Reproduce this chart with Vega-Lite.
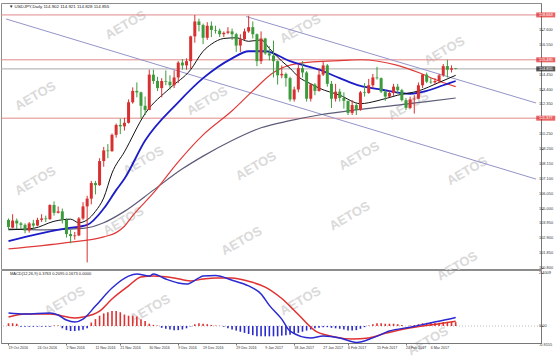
{
"$schema":"https://vega.github.io/schema/vega-lite/v6.json",
"background":"#ffffff",
"padding":{"left":0,"top":2,"right":0,"bottom":0},
"spacing":1,
"bounds":"flush",
"config":{"view":{"stroke":"#8c8c8c","strokeWidth":1},"font":"Liberation Sans",
"axis":{"grid":false,"domainColor":"#777777","tickColor":"#777777","labels":false,"tickSize":2,"title":null}},
"datasets":{
"candles":[
{"i":0,"d":"2016-10-13","o":104.2,"h":104.3,"l":103.5,"c":103.7},
{"i":1,"d":"2016-10-14","o":103.65,"h":104.6,"l":103.6,"c":104.15},
{"i":2,"d":"2016-10-17","o":104.15,"h":104.3,"l":103.55,"c":103.95},
{"i":3,"d":"2016-10-18","o":103.95,"h":104.05,"l":103.55,"c":103.85},
{"i":4,"d":"2016-10-19","o":103.85,"h":103.95,"l":103.25,"c":103.45},
{"i":5,"d":"2016-10-20","o":103.45,"h":104.05,"l":103.3,"c":103.95},
{"i":6,"d":"2016-10-21","o":103.95,"h":104.2,"l":103.55,"c":103.8},
{"i":7,"d":"2016-10-24","o":103.8,"h":104.35,"l":103.75,"c":104.2},
{"i":8,"d":"2016-10-25","o":104.2,"h":104.6,"l":104.05,"c":104.3},
{"i":9,"d":"2016-10-26","o":104.3,"h":104.5,"l":104.05,"c":104.25},
{"i":10,"d":"2016-10-27","o":104.25,"h":105.3,"l":104.2,"c":105.25},
{"i":11,"d":"2016-10-28","o":105.25,"h":105.5,"l":104.5,"c":104.7},
{"i":12,"d":"2016-10-31","o":104.7,"h":105.15,"l":104.65,"c":104.8},
{"i":13,"d":"2016-11-01","o":104.8,"h":105.0,"l":103.95,"c":104.2},
{"i":14,"d":"2016-11-02","o":104.2,"h":104.3,"l":102.95,"c":103.2},
{"i":15,"d":"2016-11-03","o":103.2,"h":103.5,"l":102.55,"c":103.05},
{"i":16,"d":"2016-11-04","o":103.05,"h":103.35,"l":102.8,"c":103.1},
{"i":17,"d":"2016-11-07","o":103.1,"h":104.4,"l":103.05,"c":104.3},
{"i":18,"d":"2016-11-08","o":104.3,"h":105.45,"l":104.2,"c":105.15},
{"i":19,"d":"2016-11-09","o":105.15,"h":105.9,"l":101.2,"c":105.7},
{"i":20,"d":"2016-11-10","o":105.7,"h":106.95,"l":105.3,"c":106.8},
{"i":21,"d":"2016-11-11","o":106.8,"h":106.95,"l":106.0,"c":106.65},
{"i":22,"d":"2016-11-14","o":106.65,"h":108.55,"l":106.6,"c":108.35},
{"i":23,"d":"2016-11-15","o":108.35,"h":109.35,"l":107.95,"c":109.1},
{"i":24,"d":"2016-11-16","o":109.1,"h":109.55,"l":108.55,"c":109.05},
{"i":25,"d":"2016-11-17","o":109.05,"h":110.3,"l":109.0,"c":110.2},
{"i":26,"d":"2016-11-18","o":110.2,"h":111.0,"l":110.0,"c":110.9},
{"i":27,"d":"2016-11-21","o":110.9,"h":111.35,"l":110.25,"c":110.8},
{"i":28,"d":"2016-11-22","o":110.8,"h":111.4,"l":110.5,"c":111.05},
{"i":29,"d":"2016-11-23","o":111.05,"h":112.7,"l":111.0,"c":112.5},
{"i":30,"d":"2016-11-24","o":112.5,"h":113.55,"l":112.4,"c":113.3},
{"i":31,"d":"2016-11-25","o":113.3,"h":113.9,"l":112.85,"c":113.2},
{"i":32,"d":"2016-11-28","o":113.2,"h":113.25,"l":111.35,"c":112.25},
{"i":33,"d":"2016-11-29","o":112.25,"h":112.9,"l":111.6,"c":111.95},
{"i":34,"d":"2016-11-30","o":111.95,"h":114.8,"l":111.95,"c":114.45},
{"i":35,"d":"2016-12-01","o":114.45,"h":114.8,"l":113.8,"c":114.0},
{"i":36,"d":"2016-12-02","o":114.0,"h":114.3,"l":113.3,"c":113.5},
{"i":37,"d":"2016-12-05","o":113.5,"h":114.2,"l":112.85,"c":114.0},
{"i":38,"d":"2016-12-06","o":114.0,"h":114.75,"l":113.7,"c":113.95},
{"i":39,"d":"2016-12-07","o":113.95,"h":114.4,"l":113.4,"c":113.7},
{"i":40,"d":"2016-12-08","o":113.7,"h":114.75,"l":113.5,"c":114.25},
{"i":41,"d":"2016-12-09","o":114.25,"h":115.4,"l":113.85,"c":115.3},
{"i":42,"d":"2016-12-12","o":115.3,"h":115.55,"l":114.8,"c":115.1},
{"i":43,"d":"2016-12-13","o":115.1,"h":115.6,"l":114.8,"c":115.4},
{"i":44,"d":"2016-12-14","o":115.4,"h":117.2,"l":114.85,"c":117.15},
{"i":45,"d":"2016-12-15","o":117.15,"h":118.663,"l":116.7,"c":118.2},
{"i":46,"d":"2016-12-16","o":118.2,"h":118.4,"l":117.5,"c":117.95},
{"i":47,"d":"2016-12-19","o":117.95,"h":118.05,"l":116.6,"c":117.05},
{"i":48,"d":"2016-12-20","o":117.05,"h":118.15,"l":116.9,"c":117.9},
{"i":49,"d":"2016-12-21","o":117.9,"h":118.2,"l":117.1,"c":117.6},
{"i":50,"d":"2016-12-22","o":117.6,"h":117.9,"l":117.35,"c":117.55},
{"i":51,"d":"2016-12-23","o":117.55,"h":117.7,"l":117.1,"c":117.3},
{"i":52,"d":"2016-12-26","o":117.3,"h":117.5,"l":117.1,"c":117.4},
{"i":53,"d":"2016-12-27","o":117.4,"h":117.8,"l":117.3,"c":117.5},
{"i":54,"d":"2016-12-28","o":117.5,"h":117.7,"l":116.9,"c":117.3},
{"i":55,"d":"2016-12-29","o":117.3,"h":117.4,"l":116.05,"c":116.5},
{"i":56,"d":"2016-12-30","o":116.5,"h":117.3,"l":116.05,"c":116.95},
{"i":57,"d":"2017-01-02","o":116.95,"h":117.7,"l":116.9,"c":117.5},
{"i":58,"d":"2017-01-03","o":117.5,"h":118.6,"l":117.4,"c":117.8},
{"i":59,"d":"2017-01-04","o":117.8,"h":118.2,"l":117.0,"c":117.3},
{"i":60,"d":"2017-01-05","o":117.3,"h":117.35,"l":115.05,"c":115.4},
{"i":61,"d":"2017-01-06","o":115.4,"h":117.5,"l":115.2,"c":117.0},
{"i":62,"d":"2017-01-09","o":117.0,"h":117.05,"l":115.85,"c":115.95},
{"i":63,"d":"2017-01-10","o":115.95,"h":116.45,"l":115.45,"c":115.8},
{"i":64,"d":"2017-01-11","o":115.8,"h":116.85,"l":114.25,"c":115.4},
{"i":65,"d":"2017-01-12","o":115.4,"h":115.45,"l":113.75,"c":114.4},
{"i":66,"d":"2017-01-13","o":114.4,"h":115.1,"l":114.2,"c":114.5},
{"i":67,"d":"2017-01-16","o":114.5,"h":114.6,"l":113.6,"c":114.2},
{"i":68,"d":"2017-01-17","o":114.2,"h":114.3,"l":112.55,"c":112.7},
{"i":69,"d":"2017-01-18","o":112.7,"h":113.6,"l":112.55,"c":113.4},
{"i":70,"d":"2017-01-19","o":113.4,"h":115.2,"l":113.2,"c":114.9},
{"i":71,"d":"2017-01-20","o":114.9,"h":115.4,"l":114.25,"c":114.6},
{"i":72,"d":"2017-01-23","o":114.6,"h":114.7,"l":112.55,"c":112.75},
{"i":73,"d":"2017-01-24","o":112.75,"h":113.85,"l":112.55,"c":113.75},
{"i":74,"d":"2017-01-25","o":113.75,"h":113.85,"l":113.0,"c":113.3},
{"i":75,"d":"2017-01-26","o":113.3,"h":114.9,"l":113.25,"c":114.45},
{"i":76,"d":"2017-01-27","o":114.45,"h":115.35,"l":114.35,"c":115.1},
{"i":77,"d":"2017-01-30","o":115.1,"h":115.2,"l":113.6,"c":113.8},
{"i":78,"d":"2017-01-31","o":113.8,"h":114.0,"l":112.1,"c":112.75},
{"i":79,"d":"2017-02-01","o":112.75,"h":113.8,"l":112.55,"c":113.25},
{"i":80,"d":"2017-02-02","o":113.25,"h":113.45,"l":112.55,"c":112.8},
{"i":81,"d":"2017-02-03","o":112.8,"h":113.2,"l":112.05,"c":112.6},
{"i":82,"d":"2017-02-06","o":112.6,"h":112.6,"l":111.6,"c":111.75},
{"i":83,"d":"2017-02-07","o":111.75,"h":112.65,"l":111.6,"c":112.3},
{"i":84,"d":"2017-02-08","o":112.3,"h":112.45,"l":111.6,"c":111.95},
{"i":85,"d":"2017-02-09","o":111.95,"h":113.3,"l":111.9,"c":113.2},
{"i":86,"d":"2017-02-10","o":113.2,"h":113.85,"l":112.9,"c":113.15},
{"i":87,"d":"2017-02-13","o":113.15,"h":114.15,"l":113.1,"c":113.7},
{"i":88,"d":"2017-02-14","o":113.7,"h":114.5,"l":113.5,"c":114.25},
{"i":89,"d":"2017-02-15","o":114.25,"h":115.0,"l":114.1,"c":114.2},
{"i":90,"d":"2017-02-16","o":114.2,"h":114.25,"l":113.15,"c":113.25},
{"i":91,"d":"2017-02-17","o":113.25,"h":113.35,"l":112.6,"c":112.9},
{"i":92,"d":"2017-02-20","o":112.9,"h":113.35,"l":112.85,"c":113.15},
{"i":93,"d":"2017-02-21","o":113.15,"h":113.8,"l":112.95,"c":113.6},
{"i":94,"d":"2017-02-22","o":113.6,"h":113.8,"l":113.1,"c":113.35},
{"i":95,"d":"2017-02-23","o":113.35,"h":113.45,"l":112.55,"c":112.65},
{"i":96,"d":"2017-02-24","o":112.65,"h":112.8,"l":111.95,"c":112.1},
{"i":97,"d":"2017-02-27","o":112.1,"h":112.9,"l":112.05,"c":112.7},
{"i":98,"d":"2017-02-28","o":112.7,"h":113.0,"l":111.7,"c":112.75},
{"i":99,"d":"2017-03-01","o":112.75,"h":113.9,"l":112.75,"c":113.7},
{"i":100,"d":"2017-03-02","o":113.7,"h":114.5,"l":113.5,"c":114.45},
{"i":101,"d":"2017-03-03","o":114.45,"h":114.6,"l":113.85,"c":113.95},
{"i":102,"d":"2017-03-06","o":113.95,"h":114.2,"l":113.8,"c":113.9},
{"i":103,"d":"2017-03-07","o":113.9,"h":114.2,"l":113.75,"c":114.0},
{"i":104,"d":"2017-03-08","o":114.0,"h":114.5,"l":113.85,"c":114.4},
{"i":105,"d":"2017-03-09","o":114.4,"h":115.2,"l":114.3,"c":115.05},
{"i":106,"d":"2017-03-10","o":115.05,"h":115.495,"l":114.25,"c":114.8},
{"i":107,"d":"2017-03-13","o":114.8,"h":115.1,"l":114.6,"c":114.9},
{"i":108,"d":"2017-03-14","o":114.902,"h":114.921,"l":114.828,"c":114.855}
],
"ma":[
{"s":"g","i":0,"v":103.55},{"s":"g","i":9,"v":103.5},{"s":"g","i":18,"v":103.6},{"s":"g","i":23,"v":104.0},{"s":"g","i":28,"v":104.8},{"s":"g","i":35,"v":106.3},{"s":"g","i":42,"v":107.8},{"s":"g","i":47,"v":108.7},{"s":"g","i":54,"v":109.8},{"s":"g","i":61,"v":110.7},{"s":"g","i":68,"v":111.2},{"s":"g","i":75,"v":111.6},{"s":"g","i":85,"v":112.0},{"s":"g","i":94,"v":112.3},{"s":"g","i":101,"v":112.55},{"s":"g","i":108,"v":112.8},
{"s":"r","i":0,"v":102.15},{"s":"r","i":14,"v":102.6},{"s":"r","i":23,"v":103.0},{"s":"r","i":26,"v":103.3},{"s":"r","i":28,"v":103.75},{"s":"r","i":30,"v":104.5},{"s":"r","i":35,"v":106.1},{"s":"r","i":41,"v":108.3},{"s":"r","i":47,"v":110.2},{"s":"r","i":54,"v":111.9},{"s":"r","i":59,"v":113.3},{"s":"r","i":64,"v":114.6},{"s":"r","i":70,"v":115.25},{"s":"r","i":81,"v":115.45},{"s":"r","i":85,"v":115.5},{"s":"r","i":94,"v":115.1},{"s":"r","i":99,"v":114.6},{"s":"r","i":104,"v":114.0},{"s":"r","i":108,"v":113.6},
{"s":"b","i":0,"v":102.7},{"s":"b","i":7,"v":103.2},{"s":"b","i":14,"v":103.6},{"s":"b","i":19,"v":103.85},{"s":"b","i":23,"v":105.0},{"s":"b","i":26,"v":106.3},{"s":"b","i":28,"v":107.1},{"s":"b","i":33,"v":109.8},{"s":"b","i":41,"v":112.5},{"s":"b","i":47,"v":114.2},{"s":"b","i":54,"v":115.6},{"s":"b","i":58,"v":116.1},{"s":"b","i":62,"v":116.1},{"s":"b","i":68,"v":115.4},{"s":"b","i":72,"v":115.05},{"s":"b","i":75,"v":114.8},{"s":"b","i":80,"v":114.2},{"s":"b","i":85,"v":113.65},{"s":"b","i":90,"v":113.4},{"s":"b","i":97,"v":113.1},{"s":"b","i":101,"v":113.3},{"s":"b","i":105,"v":113.7},{"s":"b","i":108,"v":114.0},
{"s":"k","i":0,"v":103.5},{"s":"k","i":6,"v":103.6},{"s":"k","i":11,"v":104.1},{"s":"k","i":15,"v":104.25},{"s":"k","i":17,"v":104.0},{"s":"k","i":19,"v":104.2},{"s":"k","i":21,"v":104.8},{"s":"k","i":23,"v":105.75},{"s":"k","i":25,"v":107.5},{"s":"k","i":28,"v":109.0},{"s":"k","i":33,"v":111.7},{"s":"k","i":39,"v":113.5},{"s":"k","i":44,"v":114.8},{"s":"k","i":47,"v":116.1},{"s":"k","i":49,"v":116.6},{"s":"k","i":52,"v":117.0},{"s":"k","i":55,"v":117.05},{"s":"k","i":58,"v":116.8},{"s":"k","i":61,"v":116.9},{"s":"k","i":63,"v":116.3},{"s":"k","i":66,"v":115.4},{"s":"k","i":68,"v":114.9},{"s":"k","i":70,"v":114.3},{"s":"k","i":73,"v":113.8},{"s":"k","i":75,"v":113.5},{"s":"k","i":80,"v":113.0},{"s":"k","i":85,"v":112.4},{"s":"k","i":89,"v":112.6},{"s":"k","i":94,"v":113.0},{"s":"k","i":99,"v":113.3},{"s":"k","i":104,"v":113.9},{"s":"k","i":108,"v":114.4}
],
"levels":[{"lv":118.663,"t":"r"},{"lv":115.495,"t":"r"},{"lv":111.377,"t":"r"},{"lv":114.855,"t":"p"}],
"plabels":[{"v":117.6},{"v":116.55},{"v":114.45},{"v":113.4},{"v":112.35},{"v":110.25},{"v":109.2},{"v":108.15},{"v":107.1},{"v":106.05},{"v":105.0},{"v":103.95},{"v":102.9},{"v":101.85},{"v":100.8}],
"channel":[{"i1":-0.6,"p1":118.38,"i2":127.4,"p2":107.08},{"i1":57.4,"p1":118.55,"i2":127.4,"p2":112.45}],
"wm":[{"i":28.3,"p":117.95},{"i":70.5,"p":117.67},{"i":105.3,"p":116.12},{"i":6.5,"p":112.94},{"i":48.0,"p":112.59},{"i":96.6,"p":112.24},{"i":6.5,"p":106.94},{"i":32.6,"p":108.36},{"i":59.8,"p":108.0},{"i":84.7,"p":108.71},{"i":110.8,"p":107.65},{"i":27.8,"p":104.12},{"i":56.3,"p":102.71},{"i":82.4,"p":104.47},{"i":108.4,"p":100.94},{"i":13.6,"p":98.47},{"i":34.2,"p":97.91},{"i":70.5,"p":98.47},{"i":101.3,"p":95.65}],
"macd":[
{"s":"m","i":0,"v":0.57},{"s":"m","i":4,"v":0.52},{"s":"m","i":10,"v":0.57},{"s":"m","i":12,"v":0.48},{"s":"m","i":14,"v":0.26},{"s":"m","i":16,"v":0.17},{"s":"m","i":18,"v":0.3},{"s":"m","i":21,"v":0.87},{"s":"m","i":25,"v":1.66},{"s":"m","i":29,"v":2.18},{"s":"m","i":31,"v":2.27},{"s":"m","i":34,"v":2.18},{"s":"m","i":35,"v":2.27},{"s":"m","i":38,"v":2.05},{"s":"m","i":41,"v":1.88},{"s":"m","i":43,"v":1.83},{"s":"m","i":46,"v":2.1},{"s":"m","i":47,"v":2.18},{"s":"m","i":50,"v":2.2},{"s":"m","i":54,"v":2.0},{"s":"m","i":58,"v":1.75},{"s":"m","i":61,"v":1.4},{"s":"m","i":63,"v":0.9},{"s":"m","i":66,"v":0.3},{"s":"m","i":68,"v":-0.22},{"s":"m","i":73,"v":-0.52},{"s":"m","i":76,"v":-0.44},{"s":"m","i":80,"v":-0.52},{"s":"m","i":84,"v":-0.72},{"s":"m","i":88,"v":-0.52},{"s":"m","i":92,"v":-0.22},{"s":"m","i":97,"v":-0.05},{"s":"m","i":101,"v":0.1},{"s":"m","i":105,"v":0.25},{"s":"m","i":108,"v":0.376},
{"s":"s","i":0,"v":0.39},{"s":"s","i":4,"v":0.52},{"s":"s","i":10,"v":0.52},{"s":"s","i":16,"v":0.35},{"s":"s","i":18,"v":0.39},{"s":"s","i":22,"v":0.65},{"s":"s","i":25,"v":1.18},{"s":"s","i":29,"v":1.75},{"s":"s","i":32,"v":2.14},{"s":"s","i":35,"v":2.18},{"s":"s","i":40,"v":2.1},{"s":"s","i":44,"v":1.97},{"s":"s","i":47,"v":2.05},{"s":"s","i":50,"v":2.1},{"s":"s","i":54,"v":2.1},{"s":"s","i":58,"v":1.95},{"s":"s","i":62,"v":1.7},{"s":"s","i":66,"v":1.2},{"s":"s","i":70,"v":0.5},{"s":"s","i":74,"v":-0.2},{"s":"s","i":78,"v":-0.45},{"s":"s","i":83,"v":-0.57},{"s":"s","i":87,"v":-0.52},{"s":"s","i":91,"v":-0.32},{"s":"s","i":95,"v":-0.15},{"s":"s","i":100,"v":0.0},{"s":"s","i":104,"v":0.1},{"s":"s","i":108,"v":0.21}
],
"hist":[
{"i":0,"h":0.12},{"i":1,"h":0.12},{"i":2,"h":0.1},{"i":3,"h":-0.03},{"i":4,"h":-0.03},{"i":5,"h":-0.03},{"i":6,"h":-0.03},{"i":7,"h":-0.03},{"i":8,"h":-0.03},{"i":9,"h":-0.03},{"i":10,"h":-0.03},{"i":11,"h":0.02},{"i":12,"h":0.02},
{"i":13,"h":-0.1},{"i":14,"h":-0.18},{"i":15,"h":-0.22},{"i":16,"h":-0.22},{"i":17,"h":-0.2},{"i":18,"h":-0.16},{"i":19,"h":-0.1},
{"i":20,"h":0.15},{"i":21,"h":0.3},{"i":22,"h":0.45},{"i":23,"h":0.55},{"i":24,"h":0.6},{"i":25,"h":0.65},{"i":26,"h":0.65},{"i":27,"h":0.6},{"i":28,"h":0.5},{"i":29,"h":0.45},{"i":30,"h":0.45},{"i":31,"h":0.42},{"i":32,"h":0.3},{"i":33,"h":0.22},{"i":34,"h":0.1},{"i":35,"h":0.05},{"i":36,"h":0.02},
{"i":37,"h":-0.08},{"i":38,"h":-0.12},{"i":39,"h":-0.15},{"i":40,"h":-0.18},{"i":41,"h":-0.18},{"i":42,"h":-0.15},{"i":43,"h":-0.1},{"i":44,"h":-0.02},
{"i":45,"h":0.08},{"i":46,"h":0.12},{"i":47,"h":0.1},{"i":48,"h":0.08},{"i":49,"h":0.05},{"i":50,"h":0.02},{"i":51,"h":0.01},{"i":52,"h":-0.03},
{"i":53,"h":-0.1},{"i":54,"h":-0.15},{"i":55,"h":-0.2},{"i":56,"h":-0.25},{"i":57,"h":-0.3},{"i":58,"h":-0.35},{"i":59,"h":-0.4},{"i":60,"h":-0.45},{"i":61,"h":-0.45},{"i":62,"h":-0.45},{"i":63,"h":-0.45},{"i":64,"h":-0.45},{"i":65,"h":-0.45},{"i":66,"h":-0.42},{"i":67,"h":-0.4},{"i":68,"h":-0.38},{"i":69,"h":-0.35},{"i":70,"h":-0.3},{"i":71,"h":-0.25},{"i":72,"h":-0.2},
{"i":73,"h":-0.15},{"i":74,"h":-0.1},{"i":75,"h":-0.08},{"i":76,"h":-0.05},{"i":77,"h":-0.05},{"i":78,"h":-0.08},{"i":79,"h":-0.1},{"i":80,"h":-0.12},{"i":81,"h":-0.15},{"i":82,"h":-0.2},{"i":83,"h":-0.2},{"i":84,"h":-0.18},{"i":85,"h":-0.12},
{"i":86,"h":-0.05},{"i":87,"h":0.02},{"i":88,"h":0.08},{"i":89,"h":0.12},{"i":90,"h":0.12},{"i":91,"h":0.1},{"i":92,"h":0.1},{"i":93,"h":0.1},{"i":94,"h":0.08},{"i":95,"h":0.04},{"i":96,"h":0.0},
{"i":97,"h":0.02},{"i":98,"h":0.04},{"i":99,"h":0.08},{"i":100,"h":0.12},{"i":101,"h":0.14},{"i":102,"h":0.14},{"i":103,"h":0.13},{"i":104,"h":0.14},{"i":105,"h":0.17},{"i":106,"h":0.18},{"i":107,"h":0.17},{"i":108,"h":0.167}
],
"mlabels":[{"v":2.3,"t":"2.4009"},{"v":0,"t":"0.00"},{"v":-0.83,"t":"-0.9155"}],
"dates":[{"i":0,"t":"19 Oct 2016"},{"i":7,"t":"24 Oct 2016"},{"i":14,"t":"2 Nov 2016"},{"i":21,"t":"11 Nov 2016"},{"i":27,"t":"21 Nov 2016"},{"i":34,"t":"30 Nov 2016"},{"i":41,"t":"9 Dec 2016"},{"i":47,"t":"19 Dec 2016"},{"i":55,"t":"29 Dec 2016"},{"i":62,"t":"9 Jan 2017"},{"i":69,"t":"18 Jan 2017"},{"i":76,"t":"27 Jan 2017"},{"i":82,"t":"6 Feb 2017"},{"i":89,"t":"15 Feb 2017"},{"i":96,"t":"24 Feb 2017"},{"i":102,"t":"6 Mar 2017"}]
},
"vconcat":[
{
"width":540,"height":266,
"layer":[
{"data":{"name":"wm"},"mark":{"type":"text","text":"AETOS","angle":330,"fontSize":13,"fontWeight":"bold","color":"#dadada","align":"center","baseline":"middle"},
 "encoding":{"x":{"field":"i","type":"quantitative","scale":{"domain":[-0.6,127.4],"nice":false,"zero":false},"axis":null},
  "y":{"field":"p","type":"quantitative","scale":{"domain":[100.733,119.505],"nice":false,"zero":false},
   "axis":{"orient":"right","values":[117.6,116.55,115.5,114.45,113.4,112.35,111.3,110.25,109.2,108.15,107.1,106.05,105.0,103.95,102.9,101.85,100.8],"labels":false,"tickSize":2}}}},
{"data":{"name":"levels"},"mark":{"type":"rule","strokeWidth":1},
 "encoding":{"y":{"field":"lv","type":"quantitative"},
  "color":{"condition":{"test":"datum.t=='p'","value":"#a8a8a8"},"value":"#e08a8a"}}},
{"data":{"name":"channel"},"mark":{"type":"rule","color":"#9494c8","strokeWidth":1},
 "encoding":{"x":{"field":"i1","type":"quantitative"},"y":{"field":"p1","type":"quantitative"},"x2":{"field":"i2"},"y2":{"field":"p2"}}},
{"data":{"name":"ma"},"transform":[{"filter":"datum.s=='g'"}],"mark":{"type":"line","color":"#5c5c78","strokeWidth":1.2,"interpolate":"monotone"},
 "encoding":{"x":{"field":"i","type":"quantitative"},"y":{"field":"v","type":"quantitative"}}},
{"data":{"name":"ma"},"transform":[{"filter":"datum.s=='r'"}],"mark":{"type":"line","color":"#e03a3a","strokeWidth":1.2,"interpolate":"monotone"},
 "encoding":{"x":{"field":"i","type":"quantitative"},"y":{"field":"v","type":"quantitative"}}},
{"data":{"name":"ma"},"transform":[{"filter":"datum.s=='b'"}],"mark":{"type":"line","color":"#1c1cc8","strokeWidth":1.8,"interpolate":"monotone"},
 "encoding":{"x":{"field":"i","type":"quantitative"},"y":{"field":"v","type":"quantitative"}}},
{"data":{"name":"ma"},"transform":[{"filter":"datum.s=='k'"}],"mark":{"type":"line","color":"#111111","strokeWidth":1,"interpolate":"monotone"},
 "encoding":{"x":{"field":"i","type":"quantitative"},"y":{"field":"v","type":"quantitative"}}},
{"data":{"name":"candles"},"mark":{"type":"rule","strokeWidth":1},
 "encoding":{"x":{"field":"i","type":"quantitative"},"y":{"field":"l","type":"quantitative"},"y2":{"field":"h"},
  "color":{"condition":{"test":"datum.c>=datum.o","value":"#d83030"},"value":"#3c9c3c"}}},
{"data":{"name":"candles"},"mark":{"type":"bar","width":3},
 "encoding":{"x":{"field":"i","type":"quantitative"},"y":{"field":"o","type":"quantitative"},"y2":{"field":"c"},
  "color":{"condition":{"test":"datum.c>=datum.o","value":"#d83030"},"value":"#3c9c3c"}}},
{"data":{"name":"plabels"},"mark":{"type":"text","align":"left","baseline":"middle","fontSize":3.9,"color":"#333333","dx":3},
 "encoding":{"x":{"datum":127.4,"type":"quantitative"},"y":{"field":"v","type":"quantitative"},"text":{"field":"v","format":".3f"}}},
{"data":{"name":"levels"},"mark":{"type":"tick","orient":"horizontal","size":19,"thickness":5},
 "encoding":{"x":{"datum":129.75,"type":"quantitative"},"y":{"field":"lv","type":"quantitative"},
  "color":{"condition":{"test":"datum.t=='p'","value":"#111111"},"value":"#e02424"}}},
{"data":{"name":"levels"},"mark":{"type":"text","align":"left","baseline":"middle","fontSize":3.9,"color":"#ffffff","dx":3},
 "encoding":{"x":{"datum":127.4,"type":"quantitative"},"y":{"field":"lv","type":"quantitative"},"text":{"field":"lv","format":".3f"}}},
{"data":{"values":[{"t":"\u25BC  USDJPY,Daily  114.902 114.921 114.828 114.855"}]},"mark":{"type":"text","align":"left","baseline":"middle","fontSize":4.4,"color":"#222222"},
 "encoding":{"x":{"datum":0.1,"type":"quantitative"},"y":{"datum":119.22,"type":"quantitative"},"text":{"field":"t"}}}
]
},
{
"width":540,"height":73,
"layer":[
{"data":{"values":[{"z":0}]},"mark":{"type":"rule","color":"#bbbbbb","strokeDash":[1,2],"strokeWidth":1},
 "encoding":{"y":{"field":"z","type":"quantitative","scale":{"domain":[-0.742,2.445],"nice":false,"zero":false},
   "axis":{"orient":"right","values":[2.3,0,-0.83],"labels":false,"tickSize":2}}}},
{"data":{"name":"hist"},"mark":{"type":"bar","width":1.6},
 "encoding":{"x":{"field":"i","type":"quantitative","scale":{"domain":[-0.6,127.4],"nice":false,"zero":false},
   "axis":{"values":[0,7,14,21,27,34,41,47,55,62,69,76,82,89,96,102],"labels":false,"tickSize":2}},
  "y":{"field":"h","type":"quantitative"},"y2":{"datum":0},
  "color":{"condition":{"test":"datum.h>=0","value":"#e03030"},"value":"#2a2ad0"}}},
{"data":{"name":"macd"},"transform":[{"filter":"datum.s=='s'"}],"mark":{"type":"line","color":"#e03030","strokeWidth":1.5,"interpolate":"monotone"},
 "encoding":{"x":{"field":"i","type":"quantitative"},"y":{"field":"v","type":"quantitative"}}},
{"data":{"name":"macd"},"transform":[{"filter":"datum.s=='m'"}],"mark":{"type":"line","color":"#2a2ad0","strokeWidth":1.5,"interpolate":"monotone"},
 "encoding":{"x":{"field":"i","type":"quantitative"},"y":{"field":"v","type":"quantitative"}}},
{"data":{"values":[{"t":"MACD(12,26,9) 0.3763 0.2095 0.1673 0.0000"}]},"mark":{"type":"text","align":"left","baseline":"middle","fontSize":4,"color":"#222222"},
 "encoding":{"x":{"datum":0.35,"type":"quantitative"},"y":{"datum":2.26,"type":"quantitative"},"text":{"field":"t"}}},
{"data":{"name":"mlabels"},"mark":{"type":"text","align":"left","baseline":"middle","fontSize":3.9,"color":"#333333","dx":3},
 "encoding":{"x":{"datum":127.4,"type":"quantitative"},"y":{"field":"v","type":"quantitative"},"text":{"field":"t"}}},
{"data":{"name":"dates"},"mark":{"type":"text","align":"left","baseline":"middle","fontSize":3.6,"color":"#333333","dy":4.5},
 "encoding":{"x":{"field":"i","type":"quantitative"},"y":{"datum":-0.742,"type":"quantitative"},"text":{"field":"t"}}}
]
}
]
}
